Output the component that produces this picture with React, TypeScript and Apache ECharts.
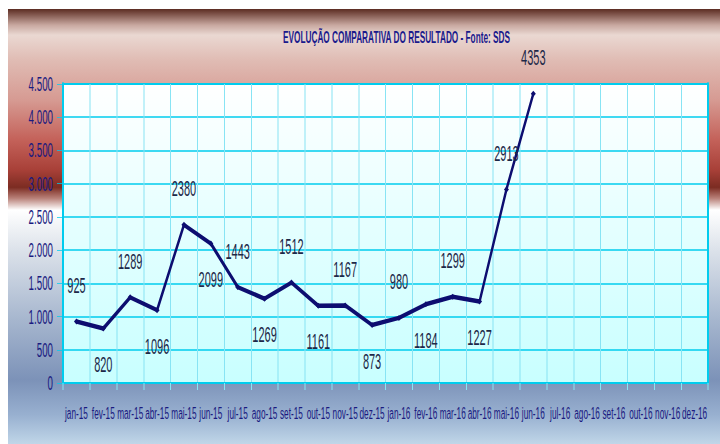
import React, { useEffect, useRef } from "react";
import * as echarts from "echarts";

const months = [
  "jan-15", "fev-15", "mar-15", "abr-15", "mai-15", "jun-15",
  "jul-15", "ago-15", "set-15", "out-15", "nov-15", "dez-15",
  "jan-16", "fev-16", "mar-16", "abr-16", "mai-16", "jun-16",
  "jul-16", "ago-16", "set-16", "out-16", "nov-16", "dez-16",
];
const resultado: (number | null)[] = [
  925, 820, 1289, 1096, 2380, 2099, 1443, 1269, 1512, 1161, 1167, 873,
  980, 1184, 1299, 1227, 2913, 4353, null, null, null, null, null, null,
];
const labelSide = [
  "top", "bottom", "top", "bottom", "top", "bottom", "top", "bottom", "top",
  "bottom", "top", "bottom", "top", "bottom", "top", "bottom", "top", "top",
];
const titleText = "EVOLUÇÃO COMPARATIVA DO RESULTADO - Fonte: SDS";

// The reference is horizontally condensed; draw wide, then squeeze with CSS.
const SQUEEZE = 0.5;
const OUT_W = 712;
const OUT_H = 435;
const LOGICAL_W = Math.round(OUT_W / SQUEEZE);
const FONT = "'Liberation Sans', Arial, sans-serif";
const CYAN = "#00ccee";
const CYAN_LIGHT = "#88e4f4";

export default function App() {
  const ref = useRef<HTMLDivElement>(null);
  useEffect(() => {
    if (!ref.current) return;
    const chart = echarts.init(ref.current, undefined, { renderer: "svg" });
    const data = resultado.map((v, i) =>
      v == null ? null : { value: v, label: { position: labelSide[i] as any } }
    );
    const vx = 1 / SQUEEZE; // compensation for vertical strokes
    chart.setOption({
      animation: false,
      backgroundColor: new echarts.graphic.LinearGradient(0, 0, 0, 1, [
        { offset: 0, color: "#5c2c22" },
        { offset: 0.037, color: "#c8a8a0" },
        { offset: 0.06, color: "#ead8d2" },
        { offset: 0.117, color: "#e0bcb4" },
        { offset: 0.21, color: "#d69a92" },
        { offset: 0.3, color: "#c4625a" },
        { offset: 0.37, color: "#a84038" },
        { offset: 0.41, color: "#7c2c22" },
        { offset: 0.435, color: "#b88078" },
        { offset: 0.462, color: "#ffffff" },
        { offset: 0.554, color: "#dce2ea" },
        { offset: 0.715, color: "#a6b6ce" },
        { offset: 0.853, color: "#7c92b8" },
        { offset: 0.933, color: "#98b0d0" },
        { offset: 1, color: "#c0d6e8" },
      ]),
      title: {
        text: titleText,
        left: (394 - 8) / SQUEEZE,
        top: 15,
        textAlign: "center",
        textStyle: {
          fontFamily: FONT,
          fontSize: 16.5,
          fontWeight: "bold",
          color: "#1a1a8c",
        },
      },
      grid: {
        left: (63 - 8) / SQUEEZE,
        top: 75,
        right: LOGICAL_W - (708 - 8) / SQUEEZE,
        bottom: 61,
        show: true,
        backgroundColor: new echarts.graphic.LinearGradient(0, 0, 0, 1, [
          { offset: 0, color: "#ffffff" },
          { offset: 1, color: "#c8ffff" },
        ]),
        borderColor: CYAN,
        borderWidth: 2,
      },
      xAxis: {
        type: "category",
        data: months,
        boundaryGap: true,
        axisLine: { show: true, lineStyle: { color: CYAN, width: 2 } },
        axisTick: { show: true, interval: 0, length: 7, lineStyle: { color: CYAN_LIGHT, width: vx } },
        splitLine: { show: true, interval: 0, lineStyle: { color: CYAN_LIGHT, width: vx } },
        axisLabel: {
          interval: 0,
          margin: 22,
          fontFamily: FONT,
          fontSize: 16.5,
          color: "#1a1a80",
        },
      },
      yAxis: [
        {
          type: "value",
          min: 0,
          max: 4500,
          interval: 500,
          axisLine: { show: true, lineStyle: { color: CYAN, width: 2 * vx } },
          axisTick: { show: true, length: 6 * vx, lineStyle: { color: CYAN, width: 1 } },
          splitLine: { show: true, lineStyle: { color: CYAN, width: 1.5 } },
          axisLabel: {
            margin: 10 * vx,
            fontFamily: FONT,
            fontSize: 19.5,
            color: "#1a1a80",
            formatter: (v: number) => v.toLocaleString("de-DE"),
          },
        },
        {
          type: "value",
          position: "right",
          min: 0,
          max: 4500,
          interval: 500,
          axisLine: { show: true, lineStyle: { color: CYAN, width: 2 * vx } },
          axisTick: { show: false },
          splitLine: { show: false },
          axisLabel: { show: false },
        },
      ],
      series: [
        {
          type: "line",
          data,
          connectNulls: false,
          symbol: "diamond",
          symbolSize: [10, 6],
          itemStyle: { color: "#0d0d70" },
          lineStyle: { color: "#0d0d70", width: 4.5 },
          label: {
            show: true,
            distance: 22,
            fontFamily: FONT,
            fontSize: 22,
            color: "#1c2848",
          },
        },
      ],
    });
    return () => chart.dispose();
  }, []);
  return (
    <div
      style={{
        position: "absolute",
        left: 8,
        top: 9,
        width: OUT_W,
        height: OUT_H,
        overflow: "hidden",
      }}
    >
      <div
        ref={ref}
        style={{
          width: LOGICAL_W,
          height: OUT_H,
          transform: `scaleX(${SQUEEZE})`,
          transformOrigin: "0 0",
        }}
      />
    </div>
  );
}
